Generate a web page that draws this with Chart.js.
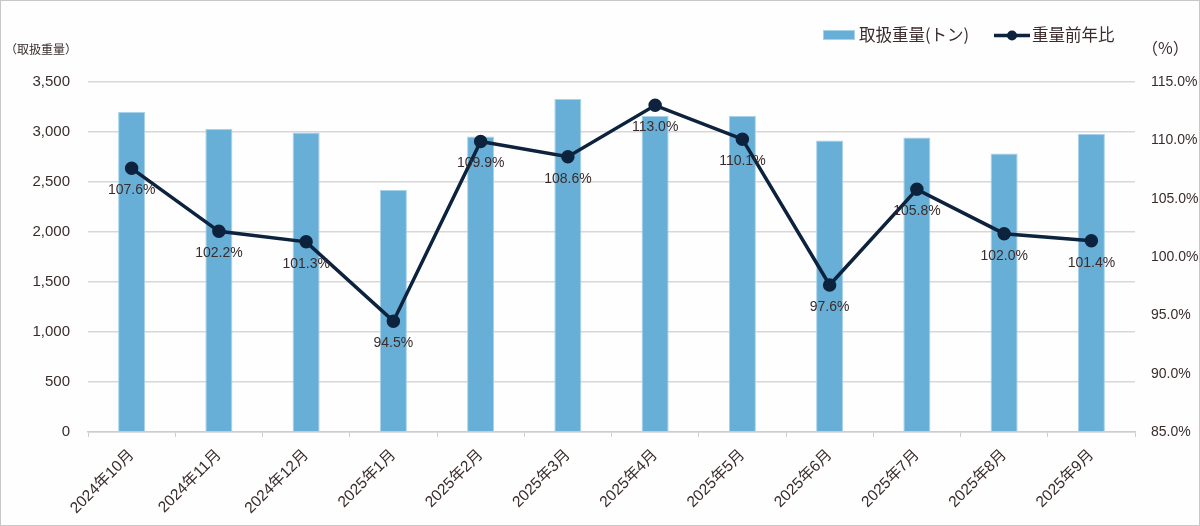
<!DOCTYPE html>
<html lang="ja">
<head>
<meta charset="utf-8">
<title>取扱重量と重量前年比</title>
<script src="https://cdn.jsdelivr.net/npm/chart.js@4"></script>
<style>
  html, body { margin: 0; padding: 0; background: #ffffff; }
  canvas { display: block; }
</style>
</head>
<body>
<canvas id="weightChart" width="1200" height="526"></canvas>
<script>
// data
const months = ['2024年10月', '2024年11月', '2024年12月', '2025年1月', '2025年2月', '2025年3月',
                '2025年4月', '2025年5月', '2025年6月', '2025年7月', '2025年8月', '2025年9月'];
const weightTons = [3200, 3030, 2995, 2420, 2955, 3330, 3160, 3160, 2915, 2945, 2785, 2980];
const yoyRatio = [107.6, 102.2, 101.3, 94.5, 109.9, 108.6, 113.0, 110.1, 97.6, 105.8, 102.0, 101.4];
const weightTicks = [0, 3500, 500];   // min, max, step
const ratioTicks = [85, 115, 5];
const seriesNames = ['取扱重量(トン)', '重量前年比'];
const axisTitles = ['（取扱重量）', '（%）'];

const FONT = "'Liberation Sans', 'Noto Sans CJK JP', sans-serif";
const CJK = "'Noto Sans CJK JP', 'Liberation Sans', sans-serif";
const TEXT = '#3b2c2c';
const BAR = '#67afd6';
const LINE = '#0c223d';

// frame, legend, axis titles and point labels
const decor = {
    id: 'decor',
    beforeDraw(chart) {
        const c = chart.ctx;
        c.save();
        c.fillStyle = '#fefefe';
        c.fillRect(0, 0, chart.width, chart.height);
        c.restore();
    },
    afterDatasetsDraw(chart) {
        const c = chart.ctx;
        c.save();
        // point labels under the line markers
        const meta = chart.getDatasetMeta(1);
        c.font = '14px ' + FONT;
        c.fillStyle = TEXT;
        c.textAlign = 'center';
        c.textBaseline = 'middle';
        meta.data.forEach((pt, i) => {
            c.fillText(yoyRatio[i].toFixed(1) + '%', pt.x, pt.y + 22);
        });
        c.restore();
    },
    afterDraw(chart) {
        const c = chart.ctx;
        c.save();
        // legend
        c.fillStyle = BAR;
        c.fillRect(823, 30, 32, 10);
        c.strokeStyle = '#a8d2ea';
        c.lineWidth = 1;
        c.strokeRect(823.5, 30.5, 31, 9);
        c.font = '16.5px ' + CJK;
        c.fillStyle = TEXT;
        c.textBaseline = 'middle';
        c.textAlign = 'left';
        c.fillText(seriesNames[0], 859, 35);
        c.strokeStyle = LINE;
        c.lineWidth = 3.5;
        c.beginPath();
        c.moveTo(994, 35.5);
        c.lineTo(1030, 35.5);
        c.stroke();
        c.fillStyle = LINE;
        c.beginPath();
        c.arc(1012, 35.5, 5, 0, Math.PI * 2);
        c.fill();
        c.fillStyle = TEXT;
        c.fillText(seriesNames[1], 1032, 35);
        // axis titles
        c.font = '12px ' + CJK;
        c.fillText(axisTitles[0], 5, 49);
        c.font = '16px ' + CJK;
        c.fillText(axisTitles[1], 1142, 48);
        // outer frame
        c.strokeStyle = '#c9c6c6';
        c.lineWidth = 1;
        c.strokeRect(0.5, 0.5, chart.width - 1, chart.height - 1);
        c.restore();
    }
};

new Chart(document.getElementById('weightChart'), {
    data: {
        labels: months,
        datasets: [{
            type: 'bar',
            label: seriesNames[0],
            data: weightTons,
            backgroundColor: BAR,
            borderColor: '#a8d2ea',
            borderWidth: 1,
            barPercentage: 0.31,
            categoryPercentage: 1,
            yAxisID: 'y',
            order: 1
        }, {
            type: 'line',
            label: seriesNames[1],
            data: yoyRatio,
            borderColor: LINE,
            backgroundColor: LINE,
            borderWidth: 3.5,
            pointRadius: 5,
            pointHoverRadius: 5,
            tension: 0,
            yAxisID: 'y1',
            order: 0
        }]
    },
    options: {
        responsive: false,
        animation: false,
        layout: { padding: { top: 82, left: 0, right: 0, bottom: 0 } },
        plugins: {
            legend: { display: false },
            tooltip: { enabled: false }
        },
        scales: {
            x: {
                grid: {
                    offset: true,
                    drawOnChartArea: false,
                    drawTicks: true,
                    tickLength: 5,
                    color: '#cfcccc'
                },
                border: { color: '#cfcccc', width: 1.5 },
                ticks: {
                    minRotation: 45,
                    maxRotation: 45,
                    padding: 9,
                    color: TEXT,
                    font: { family: FONT, size: 15.5 }
                },
                afterFit(s) { s.height = 94; }
            },
            y: {
                position: 'left',
                min: weightTicks[0],
                max: weightTicks[1],
                ticks: {
                    stepSize: weightTicks[2],
                    padding: 18,
                    color: TEXT,
                    font: { family: FONT, size: 15 },
                    callback: v => v.toLocaleString('en-US')
                },
                grid: { color: '#d9d6d6', lineWidth: 1.5, drawTicks: false },
                border: { display: false },
                afterFit(s) { s.width = 88; }
            },
            y1: {
                position: 'right',
                min: ratioTicks[0],
                max: ratioTicks[1],
                ticks: {
                    stepSize: ratioTicks[2],
                    padding: 16,
                    color: TEXT,
                    font: { family: FONT, size: 14 },
                    callback: v => v.toFixed(1) + '%'
                },
                grid: { drawOnChartArea: false, drawTicks: false },
                border: { display: false },
                afterFit(s) { s.width = 65; }
            }
        }
    },
    plugins: [decor]
});
</script>
</body>
</html>
